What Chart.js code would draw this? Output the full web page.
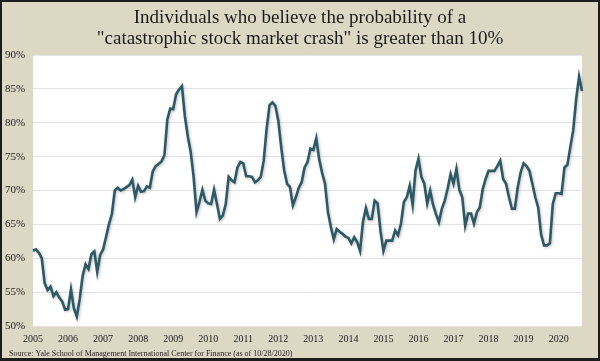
<!DOCTYPE html>
<html lang="en">
<head>
    <meta charset="UTF-8">
    <title>Crash confidence</title>
    <script src="https://cdn.jsdelivr.net/npm/chart.js"></script>
    <style>
        html, body { margin: 0; padding: 0; background: #ddd8c4; }
        #wrap { width: 600px; height: 361px; }
    </style>
</head>
<body>
    <div id="wrap"><canvas id="crashChart" width="600" height="361"></canvas></div>

    <script>
        // monthly readings, Jan 2005 .. Sep 2020
        const startYear = 2005;
        const pctValues = [
            61.1, 61.3, 60.8, 60.0, 56.3, 55.3, 55.8, 54.4, 55.0, 54.2, 53.6, 52.4,
            52.5, 55.4, 52.6, 51.4, 54.0, 57.4, 59.1, 58.4, 60.6, 61.0, 58.0, 60.5,
            61.3, 63.1, 65.0, 66.5, 70.0, 70.4, 70.0, 70.2, 70.5, 70.8, 71.6, 69.0,
            70.7, 69.8, 69.9, 70.6, 70.4, 72.8, 73.6, 73.9, 74.3, 75.2, 80.5, 82.1,
            82.0, 84.2, 84.9, 85.4, 81.0, 78.0, 75.7, 72.0, 66.8, 68.3, 70.1, 68.5,
            68.1, 68.0, 70.1, 68.0, 65.8, 66.3, 68.0, 72.0, 71.5, 71.2, 73.4, 74.2,
            74.0, 72.1, 72.1, 72.0, 71.2, 71.5, 72.0, 74.4, 79.1, 82.6, 83.0, 82.5,
            80.3, 76.4, 73.0, 71.0, 70.5, 67.8, 69.0, 70.4, 71.2, 73.4, 74.2, 76.2,
            76.0, 77.7, 74.6, 72.6, 71.0, 66.8, 64.6, 62.8, 64.3, 63.9, 63.6, 63.2,
            63.0, 62.2, 63.1, 62.4, 61.1, 65.4, 67.4, 65.8, 65.8, 68.5, 68.1, 64.0,
            61.1, 62.6, 62.6, 62.6, 64.1, 63.4, 65.1, 68.3, 69.0, 70.7, 67.9, 73.0,
            74.7, 72.0, 71.0, 68.1, 70.0, 67.9, 66.5, 65.3, 67.3, 68.5, 70.3, 72.4,
            71.0, 73.2, 70.1, 69.0, 64.8, 66.6, 66.6, 65.1, 66.8, 67.5, 70.2, 71.7,
            72.9, 72.9, 72.9, 73.6, 74.4, 71.7, 71.0, 69.0, 67.3, 67.3, 70.5, 72.7,
            74.0, 73.6, 72.9, 71.0, 69.0, 67.5, 63.5, 61.9, 61.9, 62.2, 68.0, 69.6,
            69.6, 69.5, 73.4, 73.8, 76.4, 78.9, 83.5, 86.8, 84.7
        ];
        const yTicks = [50, 55, 60, 65, 70, 75, 80, 85, 90];
        const titleLines = [
            'Individuals who believe the probability of a',
            '"catastrophic stock market crash" is greater than 10%'
        ];
        const sourceText = 'Source: Yale School of Management International Center for Finance (as of 10/28/2020)';

        const monthLabels = pctValues.map((v, i) => {
            const y = startYear + Math.floor(i / 12);
            const m = (i % 12) + 1;
            return y + '-' + String(m).padStart(2, '0');
        });

        const serif = "'Liberation Serif', 'DejaVu Serif', serif";

        // beige card, white plot area, dark frame
        const backdrop = {
            id: 'backdrop',
            beforeDraw(chart) {
                const { ctx, chartArea: a, width, height } = chart;
                ctx.save();
                ctx.fillStyle = '#ddd8c4';
                ctx.fillRect(0, 0, width, height);
                ctx.fillStyle = '#ffffff';
                ctx.fillRect(a.left, a.top, a.right - a.left, a.bottom - a.top);
                ctx.restore();
            },
            afterDraw(chart) {
                const { ctx, width, height } = chart;
                ctx.save();
                ctx.fillStyle = '#1c1c1c';
                ctx.fillRect(0, 0, width, 2);
                ctx.fillRect(0, 0, 2, height);
                ctx.fillRect(width - 2, 0, 2, height);
                ctx.fillRect(0, height - 3, width, 3);
                ctx.restore();
            },
            beforeDatasetDraw(chart) {
                chart.ctx.save();
                chart.ctx.shadowColor = 'rgba(0, 0, 0, 0.25)';
                chart.ctx.shadowBlur = 3;
                chart.ctx.shadowOffsetX = 1;
                chart.ctx.shadowOffsetY = 1;
            },
            afterDatasetDraw(chart) {
                chart.ctx.restore();
            }
        };

        const ctx = document.getElementById('crashChart').getContext('2d');
        new Chart(ctx, {
            type: 'line',
            data: {
                labels: monthLabels,
                datasets: [{
                    data: pctValues,
                    borderColor: '#2d5866',
                    borderWidth: 2.6,
                    pointRadius: 0,
                    tension: 0,
                    fill: false
                }]
            },
            options: {
                responsive: false,
                animation: false,
                layout: { padding: { left: 5, right: 5, top: 0, bottom: 0 } },
                plugins: {
                    legend: { display: false },
                    tooltip: { enabled: false },
                    title: {
                        display: true,
                        text: titleLines,
                        color: '#1a1a1a',
                        font: { family: serif, size: 19, weight: 'normal', lineHeight: 1.1 },
                        padding: { top: 7.6, bottom: 5.6 }
                    },
                    subtitle: {
                        display: true,
                        position: 'bottom',
                        align: 'start',
                        text: '  ' + sourceText,
                        color: '#222',
                        font: { family: serif, size: 8, lineHeight: 1.2 },
                        padding: { top: 0, bottom: 2.7 }
                    }
                },
                scales: {
                    x: {
                        type: 'category',
                        offset: false,
                        grid: { display: false, drawTicks: false },
                        border: { display: false },
                        afterFit(scale) { scale.height = 22.7; },
                        ticks: {
                            autoSkip: false,
                            maxRotation: 0,
                            padding: 7,
                            color: '#222',
                            font: { family: serif, size: 10 },
                            callback(value, index) {
                                return index % 12 === 0 ? String(startYear + index / 12) : '';
                            }
                        }
                    },
                    y: {
                        min: 50,
                        max: 90,
                        afterBuildTicks(scale) { scale.ticks = yTicks.map(v => ({ value: v })); },
                        afterFit(scale) { scale.width = 28; },
                        grid: { color: '#e4e4e4', lineWidth: 1, drawTicks: false },
                        border: { display: false },
                        ticks: {
                            crossAlign: 'far',
                            color: '#222',
                            font: { family: serif, size: 11 },
                            callback: v => v + '%'
                        }
                    },
                    // empty right-hand strip of beige
                    yRight: {
                        position: 'right',
                        min: 50,
                        max: 90,
                        grid: { display: false, drawTicks: false },
                        border: { display: false },
                        ticks: { display: false },
                        afterFit(scale) { scale.width = 13; }
                    }
                }
            },
            plugins: [backdrop]
        });
    </script>
</body>
</html>
